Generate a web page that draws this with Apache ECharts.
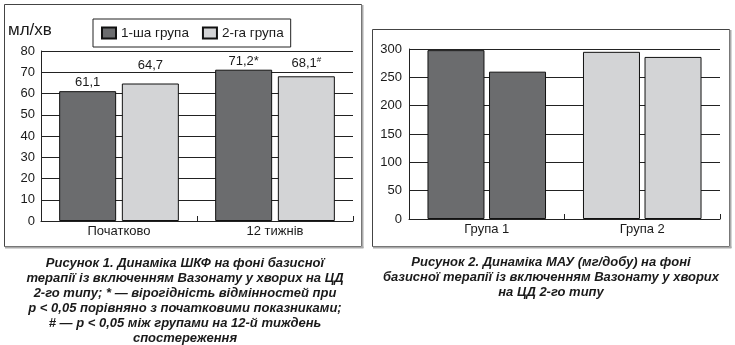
<!DOCTYPE html>
<html>
<head>
<meta charset="utf-8">
<script src="https://cdn.jsdelivr.net/npm/echarts@6/dist/echarts.min.js"></script>
<style>
  html, body { margin: 0; padding: 0; background: #fff; }
  #chart { width: 735px; height: 345px; }
</style>
</head>
<body>
<div id="chart"></div>
<script>
// Figure 1: GFR (ml/min) at baseline and after 12 weeks
const gfrCategories = ['Початково', '12 тижнів'];
const gfrGroup1 = [61.1, 71.2];
const gfrGroup2 = [64.7, 68.1];
const gfrMarks1 = ['', '*'];
const gfrMarks2 = ['', '#'];
const gfrSeriesNames = ['1-ша група', '2-га група'];
const gfrTicks = [0, 10, 20, 30, 40, 50, 60, 70, 80];

// Figure 2: microalbuminuria (mg/day) by group, before / after
const mauCategories = ['Група 1', 'Група 2'];
const mauBefore = [298, 295];
const mauAfter = [260, 286];
const mauTicks = [0, 50, 100, 150, 200, 250, 300];

const DARK = '#6b6c6e';
const LIGHT = '#d3d4d6';
const FONT = '"Liberation Sans", Arial, sans-serif';

const fmt = (v, mark) => String(v).replace('.', ',') + (mark === '#' ? '{s|#}' : mark);

const caption1 = [
  'Рисунок 1. Динаміка ШКФ на фоні базисної',
  'терапії із включенням Вазонату у хворих на ЦД',
  '2-го типу; * — вірогідність відмінностей при',
  'p < 0,05 порівняно з початковими показниками;',
  '# — p < 0,05 між групами на 12-й тиждень',
  'спостереження'
];
const caption2 = [
  'Рисунок 2. Динаміка МАУ (мг/добу) на фоні',
  'базисної терапії із включенням Вазонату у хворих',
  'на ЦД 2-го типу'
];

const chart = echarts.init(document.getElementById('chart'), null, { renderer: 'canvas' });

const axisLabelStyle = { color: '#1a1a1a', fontSize: 13, fontFamily: FONT };

const labelRich = { s: { fontSize: 8, verticalAlign: 'top', color: '#1a1a1a', fontFamily: FONT, padding: [0, 0, 6, 0] } };

// Panel frame: thin dark outline with a grey shadow on the right and bottom
function frame(x, y, w, h) {
  return [
    { type: 'rect', shape: { x: x + 0.5, y: y + 0.5, width: w, height: h }, style: { fill: 'none', stroke: '#444', lineWidth: 1 }, silent: true },
    { type: 'line', shape: { x1: x + w + 1.5, y1: y + 1, x2: x + w + 1.5, y2: y + h + 2 }, style: { stroke: '#aaa', lineWidth: 2 }, silent: true },
    { type: 'line', shape: { x1: x + 1, y1: y + h + 1.5, x2: x + w + 2.5, y2: y + h + 1.5 }, style: { stroke: '#aaa', lineWidth: 2 }, silent: true }
  ];
}

const captionStyle = { fontSize: 13, fontWeight: 'bold', fontStyle: 'italic', fontFamily: FONT, fill: '#1a1a1a', align: 'center', lineHeight: 15 };

const option = {
  backgroundColor: '#fff',
  animation: false,
  textStyle: { fontFamily: FONT },
  graphic: [
    ...frame(4, 4, 357, 242),
    ...frame(372, 29, 357, 217),
    { type: 'text', left: 8, top: 22, style: { text: 'мл/хв', fontSize: 17, fontFamily: FONT, fill: '#1a1a1a' } },
    { type: 'text', x: 185, y: 256, style: { text: caption1.join('\n'), ...captionStyle } },
    { type: 'text', x: 551, y: 255, style: { text: caption2.join('\n'), ...captionStyle } }
  ],
  legend: {
    data: gfrSeriesNames,
    left: 93, top: 19,
    orient: 'horizontal',
    padding: [7, 7, 7, 8],
    itemWidth: 14, itemHeight: 11, itemGap: 13,
    borderColor: '#222', borderWidth: 1,
    textStyle: { fontSize: 13.5, color: '#1a1a1a', fontFamily: FONT },
    icon: 'rect'
  },
  grid: [
    { left: 41, right: 382, top: 51, bottom: 124 },
    { left: 409, right: 15, top: 49, bottom: 126 }
  ],
  xAxis: [
    {
      gridIndex: 0, type: 'category', data: gfrCategories,
      axisLine: { lineStyle: { color: '#222', width: 1 } },
      axisTick: { show: true, inside: true, length: 5, lineStyle: { color: '#222' } },
      axisLabel: { ...axisLabelStyle, margin: 4 }
    },
    {
      gridIndex: 1, type: 'category', data: mauCategories,
      axisLine: { lineStyle: { color: '#222', width: 1 } },
      axisTick: { show: true, inside: true, length: 5, lineStyle: { color: '#222' } },
      axisLabel: { ...axisLabelStyle, margin: 4 }
    }
  ],
  yAxis: [
    {
      gridIndex: 0, type: 'value', min: gfrTicks[0], max: gfrTicks[gfrTicks.length - 1], interval: gfrTicks[1] - gfrTicks[0],
      axisLine: { show: true, lineStyle: { color: '#222', width: 1 } },
      axisTick: { show: false },
      splitLine: { lineStyle: { color: '#222', width: 1 } },
      axisLabel: { ...axisLabelStyle, margin: 6 }
    },
    {
      gridIndex: 1, type: 'value', min: mauTicks[0], max: mauTicks[mauTicks.length - 1], interval: mauTicks[1] - mauTicks[0],
      axisLine: { show: true, lineStyle: { color: '#222', width: 1 } },
      axisTick: { show: false },
      splitLine: { lineStyle: { color: '#222', width: 1 } },
      axisLabel: { ...axisLabelStyle, margin: 7 }
    }
  ],
  series: [
    {
      name: gfrSeriesNames[0], type: 'bar', xAxisIndex: 0, yAxisIndex: 0,
      barWidth: 57, barGap: '10%',
      itemStyle: { color: DARK, borderColor: '#111', borderWidth: 1 },
      label: { show: true, position: 'top', distance: 2, fontSize: 13, color: '#1a1a1a', fontFamily: FONT, rich: labelRich },
      data: gfrGroup1.map((v, i) => ({ value: v, label: { formatter: fmt(v, gfrMarks1[i]) } }))
    },
    {
      name: gfrSeriesNames[1], type: 'bar', xAxisIndex: 0, yAxisIndex: 0,
      barWidth: 57, barGap: '10%',
      itemStyle: { color: LIGHT, borderColor: '#111', borderWidth: 1 },
      label: { show: true, position: 'top', distance: 2, fontSize: 13, color: '#1a1a1a', fontFamily: FONT, rich: labelRich },
      data: gfrGroup2.map((v, i) => ({
        value: v,
        label: { formatter: fmt(v, gfrMarks2[i]), offset: [0, i === 0 ? -10 : -4] }
      }))
    },
    {
      name: 'before', type: 'bar', xAxisIndex: 1, yAxisIndex: 1,
      barWidth: 57, barGap: '8%',
      itemStyle: { borderColor: '#111', borderWidth: 1 },
      data: mauBefore.map((v, i) => ({ value: v, itemStyle: { color: i === 0 ? DARK : LIGHT } }))
    },
    {
      name: 'after', type: 'bar', xAxisIndex: 1, yAxisIndex: 1,
      barWidth: 57, barGap: '8%',
      itemStyle: { borderColor: '#111', borderWidth: 1 },
      data: mauAfter.map((v, i) => ({ value: v, itemStyle: { color: i === 0 ? DARK : LIGHT } }))
    }
  ]
};

chart.setOption(option);
</script>
</body>
</html>
